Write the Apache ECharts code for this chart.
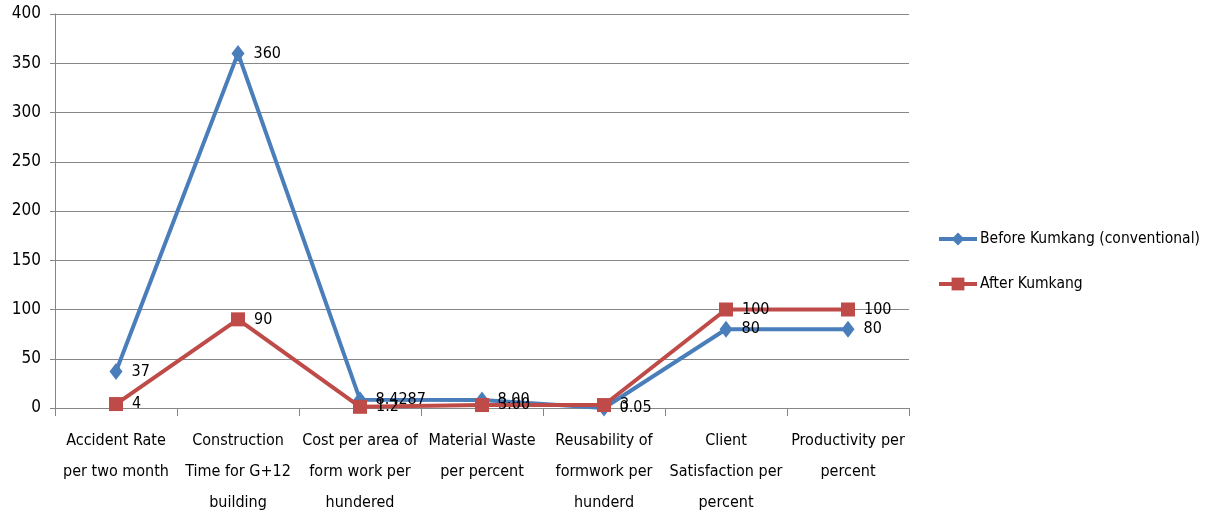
<!DOCTYPE html>
<html>
<head>
<meta charset="utf-8">
<script src="https://cdn.jsdelivr.net/npm/echarts@6/dist/echarts.min.js"></script>
<style>
html,body{margin:0;padding:0;background:#fff;}
#chart{width:1206px;height:518px;}
</style>
</head>
<body>
<div id="chart"></div>
<script>
// Categories and values for the formwork comparison
var categories = [
  'Accident Rate\nper two month',
  'Construction\nTime for G+12\nbuilding',
  'Cost per area of\nform work per\nhundered',
  'Material Waste\nper percent',
  'Reusability of\nformwork per\nhunderd',
  'Client\nSatisfaction per\npercent',
  'Productivity per\npercent'
];
var beforeName = 'Before Kumkang (conventional)';
var afterName = 'After Kumkang';
var beforeValues = [37, 360, 8.4287, 8.00, 0.05, 80, 80];
var afterValues = [4, 90, 1.2, 3.00, 3, 100, 100];
var beforeLabels = ['37', '360', '8.4287', '8.00', '0.05', '80', '80'];
var afterLabels = ['4', '90', '1.2', '3.00', '3', '100', '100'];
var yTicks = [0, 50, 100, 150, 200, 250, 300, 350, 400];

var FONT = '"Liberation Sans Narrow", "DejaVu Sans Condensed", "Liberation Sans", sans-serif';
var chart = echarts.init(document.getElementById('chart'));

function labelCfg(labels) {
  return {
    show: true,
    position: 'right',
    distance: 9,
    color: '#000',
    fontFamily: FONT,
    fontSize: 16,
    formatter: function (p) { return labels[p.dataIndex]; }
  };
}

chart.setOption({
  animation: false,
  grid: { left: 55, right: 297, top: 14, bottom: 110, containLabel: false },
  legend: {
    orient: 'vertical',
    left: 932,
    top: 226,
    itemGap: 29,
    itemWidth: 38,
    itemHeight: 16,
    lineStyle: { width: 4 },
    textStyle: { fontFamily: FONT, fontSize: 15.5, color: '#000', padding: [0, 0, 0, -2] },
    data: [beforeName, afterName]
  },
  xAxis: {
    type: 'category',
    data: categories,
    boundaryGap: true,
    axisLine: { lineStyle: { color: '#868686', width: 1 } },
    axisTick: { show: true, length: 8, lineStyle: { color: '#868686' } },
    axisLabel: {
      interval: 0,
      color: '#000',
      fontFamily: FONT,
      fontSize: 16,
      lineHeight: 31,
      margin: 17
    }
  },
  yAxis: {
    type: 'value',
    min: yTicks[0],
    max: yTicks[yTicks.length - 1],
    interval: 50,
    axisLine: { show: true, lineStyle: { color: '#868686', width: 1 } },
    axisTick: { show: true, length: 5, lineStyle: { color: '#868686' } },
    axisLabel: { color: '#000', fontFamily: FONT, fontSize: 17, margin: 14 },
    splitLine: { lineStyle: { color: '#868686', width: 1 } }
  },
  series: [
    {
      name: beforeName,
      type: 'line',
      data: beforeValues,
      symbol: 'diamond',
      symbolSize: [13, 17],
      lineStyle: { color: '#4A7EBB', width: 4 },
      itemStyle: { color: '#4A7EBB' },
      label: labelCfg(beforeLabels),
      z: 2
    },
    {
      name: afterName,
      type: 'line',
      data: afterValues,
      symbol: 'rect',
      symbolSize: 14,
      lineStyle: { color: '#BE4B48', width: 4 },
      itemStyle: { color: '#BE4B48' },
      label: labelCfg(afterLabels),
      z: 3
    }
  ]
});
</script>
</body>
</html>
